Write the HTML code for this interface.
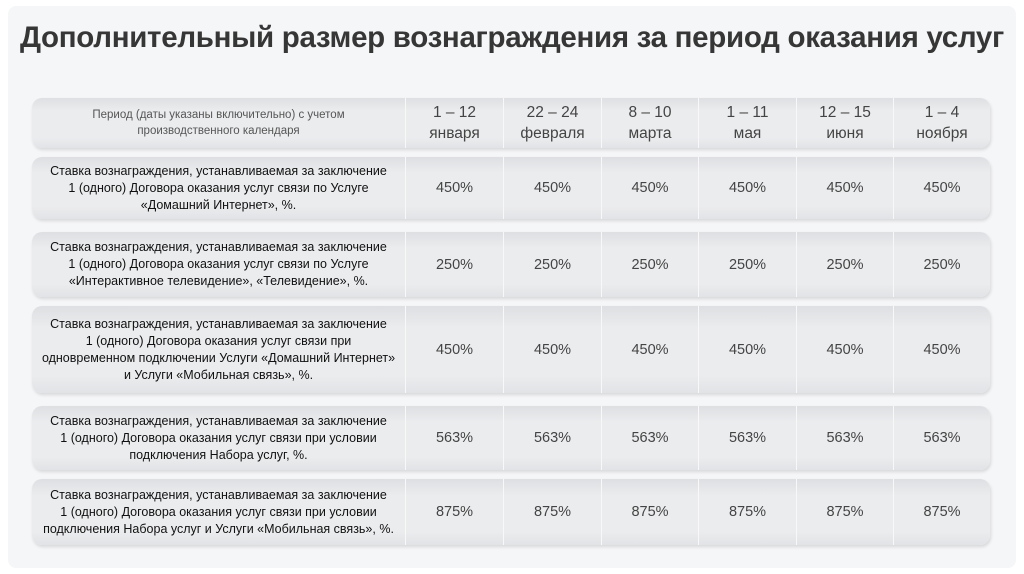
<!DOCTYPE html>
<html><head><meta charset="utf-8"><style>
body{margin:0;width:1024px;height:574px;background:#fff;font-family:"Liberation Sans","Noto Sans CJK SC",sans-serif;position:relative;overflow:hidden}
#panel{position:absolute;left:8px;top:6px;width:1008px;height:562px;background:#f5f6f8;border-radius:8px}
h1{position:absolute;left:0;width:1024px;top:21px;margin:0;text-align:center;font-size:29.5px;font-weight:bold;color:#363636;letter-spacing:-0.3px}
.row{position:absolute;left:32px;width:958px;border-radius:10px;background:linear-gradient(#dedfe2,#ebecee 25%,#ebecee 80%,#e2e3e6);box-shadow:1px 2px 3px rgba(0,0,0,.12)}
.c{position:absolute;top:0;height:100%;display:flex;align-items:center;justify-content:center;text-align:center;color:#333;border-left:1px solid #f8f8f8;box-sizing:border-box}
.c.l{border-left:none;font-size:12.5px;line-height:17px;color:#111;padding:0 6px}
.v{font-size:14.5px;color:#444}
.h .c.l{color:#555;font-size:11.5px;line-height:16px}
.h .v{font-size:15.5px;line-height:21px}
</style></head><body>
<div id="panel"></div>
<h1>Дополнительный размер вознаграждения за период оказания услуг</h1>
<div id="t"></div>
<script>
const periods=["1 – 12<br>января","22 – 24<br>февраля","8 – 10<br>марта","1 – 11<br>мая","12 – 15<br>июня","1 – 4<br>ноября"];
const labels=["Ставка вознаграждения, устанавливаемая за заключение<br>1 (одного) Договора оказания услуг связи по Услуге<br>«Домашний Интернет», %.","Ставка вознаграждения, устанавливаемая за заключение<br>1 (одного) Договора оказания услуг связи по Услуге<br>«Интерактивное телевидение», «Телевидение», %.","Ставка вознаграждения, устанавливаемая за заключение<br>1 (одного) Договора оказания услуг связи при<br>одновременном подключении Услуги «Домашний Интернет»<br>и Услуги «Мобильная связь», %.","Ставка вознаграждения, устанавливаемая за заключение<br>1 (одного) Договора оказания услуг связи при условии<br>подключения Набора услуг, %.","Ставка вознаграждения, устанавливаемая за заключение<br>1 (одного) Договора оказания услуг связи при условии<br>подключения Набора услуг и Услуги «Мобильная связь», %."];
const values=[450,250,450,563,875];
const rowsY=[[98,148],[157,219],[232,297],[306,393],[406,470],[479,545]];
const colX=[0,373,471,569,666,764,861,958];
const t=document.getElementById('t');
function mkRow(i,labelHtml,cells,cls){
  const r=document.createElement('div');r.className='row '+cls;
  
  
  r.style.top=rowsY[i][0]+'px';r.style.height=(rowsY[i][1]-rowsY[i][0])+'px';
  const l=document.createElement('div');l.className='c l';l.innerHTML=labelHtml;
  
  
  l.style.left='0px';l.style.width=colX[1]+'px';r.appendChild(l);
  cells.forEach((v,j)=>{const c=document.createElement('div');c.className='c v';c.innerHTML=v;
    
    
    c.style.left=colX[j+1]+'px';c.style.width=(colX[j+2]-colX[j+1])+'px';r.appendChild(c);});
  t.appendChild(r);
}
mkRow(0,"Период (даты указаны включительно) с учетом<br>производственного календаря",periods,'h');
values.forEach((v,i)=>mkRow(i+1,labels[i],periods.map(()=>v+'%'),'d'));
</script>
</body></html>
